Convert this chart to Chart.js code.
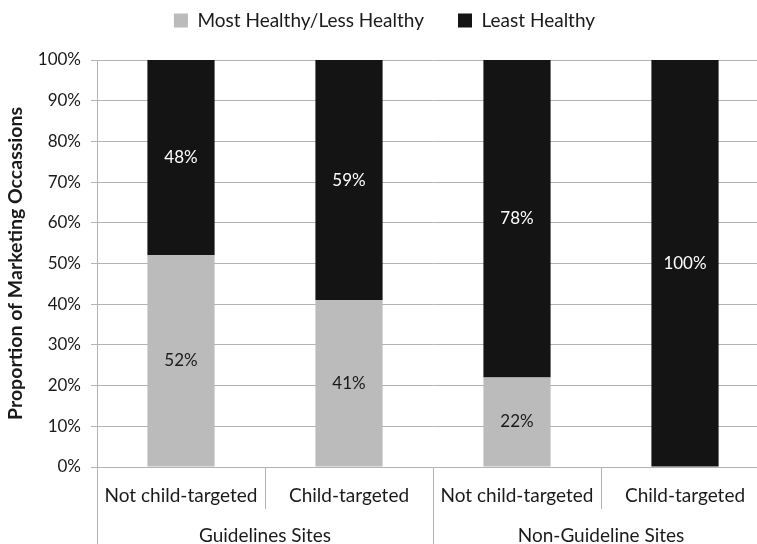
<!DOCTYPE html>
<html>
<head>
<meta charset="utf-8">
<script src="https://cdn.jsdelivr.net/npm/chart.js@4/dist/chart.umd.min.js"></script>
<style>
  html, body { margin: 0; padding: 0; background: #fff; overflow: hidden; }
  #wrap { width: 770px; height: 544px; }
</style>
</head>
<body>
<div id="wrap"><canvas id="chart"></canvas></div>
<script>
// categories on the inner x level and the groups under them
var categories = ["Not child-targeted", "Child-targeted", "Not child-targeted", "Child-targeted"];
var groups = ["Guidelines Sites", "Non-Guideline Sites"];
// series values, percent of marketing occasions
var healthierValues = [52, 41, 22, 0];
var leastHealthyValues = [48, 59, 78, 100];
var seriesNames = ["Most Healthy/Less Healthy", "Least Healthy"];

var FONT = "Lato, 'Open Sans', sans-serif";
var GRID = "#b3b3b3";

// draws the percent label in the middle of each bar piece
var barLabels = {
  id: "barLabels",
  afterDatasetsDraw: function(chart) {
    var ctx = chart.ctx;
    ctx.save();
    ctx.font = "17px " + FONT;
    ctx.textAlign = "center";
    ctx.textBaseline = "middle";
    chart.data.datasets.forEach(function(ds, i) {
      var meta = chart.getDatasetMeta(i);
      meta.data.forEach(function(bar, j) {
        var v = ds.data[j];
        if (!v) return;
        ctx.fillStyle = i == 0 ? "#1a1a1a" : "#ffffff";
        ctx.fillText(v + "%", bar.x, (bar.y + bar.base) / 2);
      });
    });
    ctx.restore();
  }
};

// legend block height, so the plot starts below it at the right place
var legendSpace = {
  id: "legendSpace",
  beforeInit: function(chart) {
    var fit = chart.legend.fit;
    chart.legend.fit = function() {
      fit.bind(chart.legend)();
      this.height = 83;
    };
  }
};

new Chart(document.getElementById("chart"), {
  type: "bar",
  data: {
    labels: categories,
    datasets: [
      { label: seriesNames[0], data: healthierValues, backgroundColor: "#bbbbbb",
        barPercentage: 0.4, categoryPercentage: 1.0 },
      { label: seriesNames[1], data: leastHealthyValues, backgroundColor: "#141414",
        barPercentage: 0.4, categoryPercentage: 1.0 }
    ]
  },
  options: {
    responsive: true,
    maintainAspectRatio: false,
    animation: false,
    layout: { padding: { top: -23, right: 1, left: 0, bottom: 0 } },
    plugins: {
      legend: {
        position: "top",
        labels: { font: { family: FONT, size: 19 }, color: "#1a1a1a",
                  boxWidth: 14, boxHeight: 14, padding: 34 }
      },
      tooltip: { enabled: false }
    },
    scales: {
      x: {
        stacked: true,
        grid: { display: true, drawOnChartArea: false, offset: true, color: GRID, tickLength: 42 },
        border: { color: GRID },
        ticks: { font: { family: FONT, size: 19 }, color: "#1a1a1a", padding: -25, maxRotation: 0 },
        afterFit: function(s) { s.height = 38; }
      },
      x2: {
        type: "category",
        labels: groups,
        position: "bottom",
        offset: true,
        grid: { display: true, drawOnChartArea: false, offset: true, color: GRID, tickLength: 42 },
        border: { display: false },
        ticks: { font: { family: FONT, size: 19 }, color: "#1a1a1a", padding: -23, maxRotation: 0 },
        afterFit: function(s) { s.height = 39; }
      },
      y: {
        stacked: true,
        min: 0,
        max: 100,
        ticks: { stepSize: 10, font: { family: FONT, size: 17 }, color: "#1a1a1a", padding: 10,
                 callback: function(v) { return v + "%"; } },
        grid: { color: GRID, tickLength: 6 },
        border: { color: GRID },
        title: { display: true, text: "Proportion of Marketing Occassions",
                 font: { family: FONT, size: 19.5, weight: "bold" }, color: "#1a1a1a",
                 padding: { top: 4, bottom: 0 } },
        afterFit: function(s) { s.width = 97; }
      }
    }
  },
  plugins: [barLabels, legendSpace]
});
</script>
</body>
</html>
